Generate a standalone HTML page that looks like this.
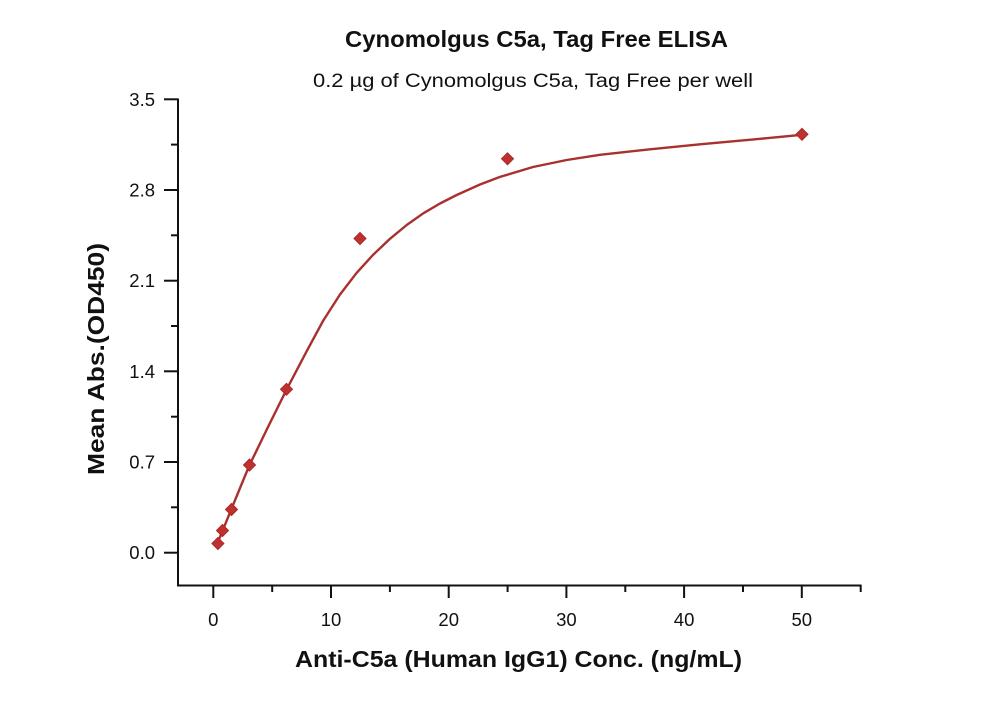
<!DOCTYPE html>
<html>
<head>
<meta charset="utf-8">
<style>
  html,body{margin:0;padding:0;background:#fff;}
  svg{display:block;}
  text{font-family:"Liberation Sans",sans-serif;fill:#111;}
</style>
</head>
<body>
<svg width="1000" height="702" viewBox="0 0 1000 702" xmlns="http://www.w3.org/2000/svg">
  <rect width="1000" height="702" fill="#fff"/>
  <!-- Titles -->
  <text x="345" y="47" font-size="23" font-weight="bold" textLength="383" lengthAdjust="spacingAndGlyphs">Cynomolgus C5a, Tag Free ELISA</text>
  <text x="313" y="87" font-size="19" textLength="440" lengthAdjust="spacingAndGlyphs">0.2 µg of Cynomolgus C5a, Tag Free per well</text>

  <!-- Axes -->
  <g stroke="#111" stroke-width="2" fill="none">
    <line x1="178" y1="98.5" x2="178" y2="586.5"/>
    <line x1="177" y1="585.5" x2="861.5" y2="585.5"/>
    <!-- y major ticks -->
    <line x1="164" y1="99.3" x2="178" y2="99.3"/>
    <line x1="164" y1="190" x2="178" y2="190"/>
    <line x1="164" y1="280.7" x2="178" y2="280.7"/>
    <line x1="164" y1="371.3" x2="178" y2="371.3"/>
    <line x1="164" y1="462" x2="178" y2="462"/>
    <line x1="164" y1="552.7" x2="178" y2="552.7"/>
    <!-- y minor ticks -->
    <line x1="171" y1="144.6" x2="178" y2="144.6"/>
    <line x1="171" y1="235.3" x2="178" y2="235.3"/>
    <line x1="171" y1="326" x2="178" y2="326"/>
    <line x1="171" y1="416.7" x2="178" y2="416.7"/>
    <line x1="171" y1="507.3" x2="178" y2="507.3"/>
    <!-- x major ticks -->
    <line x1="213.3" y1="585" x2="213.3" y2="598"/>
    <line x1="331" y1="585" x2="331" y2="598"/>
    <line x1="448.7" y1="585" x2="448.7" y2="598"/>
    <line x1="566.4" y1="585" x2="566.4" y2="598"/>
    <line x1="684.1" y1="585" x2="684.1" y2="598"/>
    <line x1="801.8" y1="585" x2="801.8" y2="598"/>
    <!-- x minor ticks -->
    <line x1="272.2" y1="585" x2="272.2" y2="592"/>
    <line x1="389.9" y1="585" x2="389.9" y2="592"/>
    <line x1="507.6" y1="585" x2="507.6" y2="592"/>
    <line x1="625.3" y1="585" x2="625.3" y2="592"/>
    <line x1="743" y1="585" x2="743" y2="592"/>
    <line x1="860.7" y1="585" x2="860.7" y2="592"/>
  </g>

  <!-- Y tick labels -->
  <g font-size="18.5" text-anchor="end">
    <text x="155" y="105.8">3.5</text>
    <text x="155" y="196.5">2.8</text>
    <text x="155" y="287.2">2.1</text>
    <text x="155" y="377.8">1.4</text>
    <text x="155" y="468.5">0.7</text>
    <text x="155" y="559.2">0.0</text>
  </g>
  <!-- X tick labels -->
  <g font-size="18.5" text-anchor="middle">
    <text x="213.3" y="626">0</text>
    <text x="331" y="626">10</text>
    <text x="448.7" y="626">20</text>
    <text x="566.4" y="626">30</text>
    <text x="684.1" y="626">40</text>
    <text x="801.8" y="626">50</text>
  </g>

  <!-- Axis labels -->
  <text x="295" y="667" font-size="23" font-weight="bold" textLength="447" lengthAdjust="spacingAndGlyphs">Anti-C5a (Human IgG1) Conc. (ng/mL)</text>
  <text transform="translate(104,359) rotate(-90)" x="0" y="0" font-size="23" font-weight="bold" text-anchor="middle" textLength="232" lengthAdjust="spacingAndGlyphs">Mean Abs.(OD450)</text>

  <!-- Fitted curve -->
  <polyline fill="none" stroke="#a8312f" stroke-width="2.4" stroke-linejoin="round" stroke-linecap="round"
    points="217,544 222.5,531 231,510 249.3,465.5 268,427 286.7,389.3 306.7,351.2 323.3,320.5 340,294.5 356.7,272.8 373.3,254.6 390,238.8 406.7,225 423.3,213.3 440,203.5 456.7,195 480,184.5 500,176.9 533,167 566.7,160 600,154.8 650,149.3 700,144.3 766.7,138.2 802,134.8"/>

  <!-- Data markers -->
  <g fill="#c0302f" stroke="#a82a2a" stroke-width="1">
    <polygon points="217.9,537.5 223.9,543.5 217.9,549.5 211.9,543.5"/>
    <polygon points="222.5,524.5 228.5,530.5 222.5,536.5 216.5,530.5"/>
    <polygon points="231.5,503.5 237.5,509.5 231.5,515.5 225.5,509.5"/>
    <polygon points="249.5,459 255.5,465 249.5,471 243.5,465"/>
    <polygon points="286.5,383.3 292.5,389.3 286.5,395.3 280.5,389.3"/>
    <polygon points="360,232.5 366,238.5 360,244.5 354,238.5"/>
    <polygon points="507.5,152.8 513.5,158.8 507.5,164.8 501.5,158.8"/>
    <polygon points="802,128.3 808,134.3 802,140.3 796,134.3"/>
  </g>
</svg>
</body>
</html>
